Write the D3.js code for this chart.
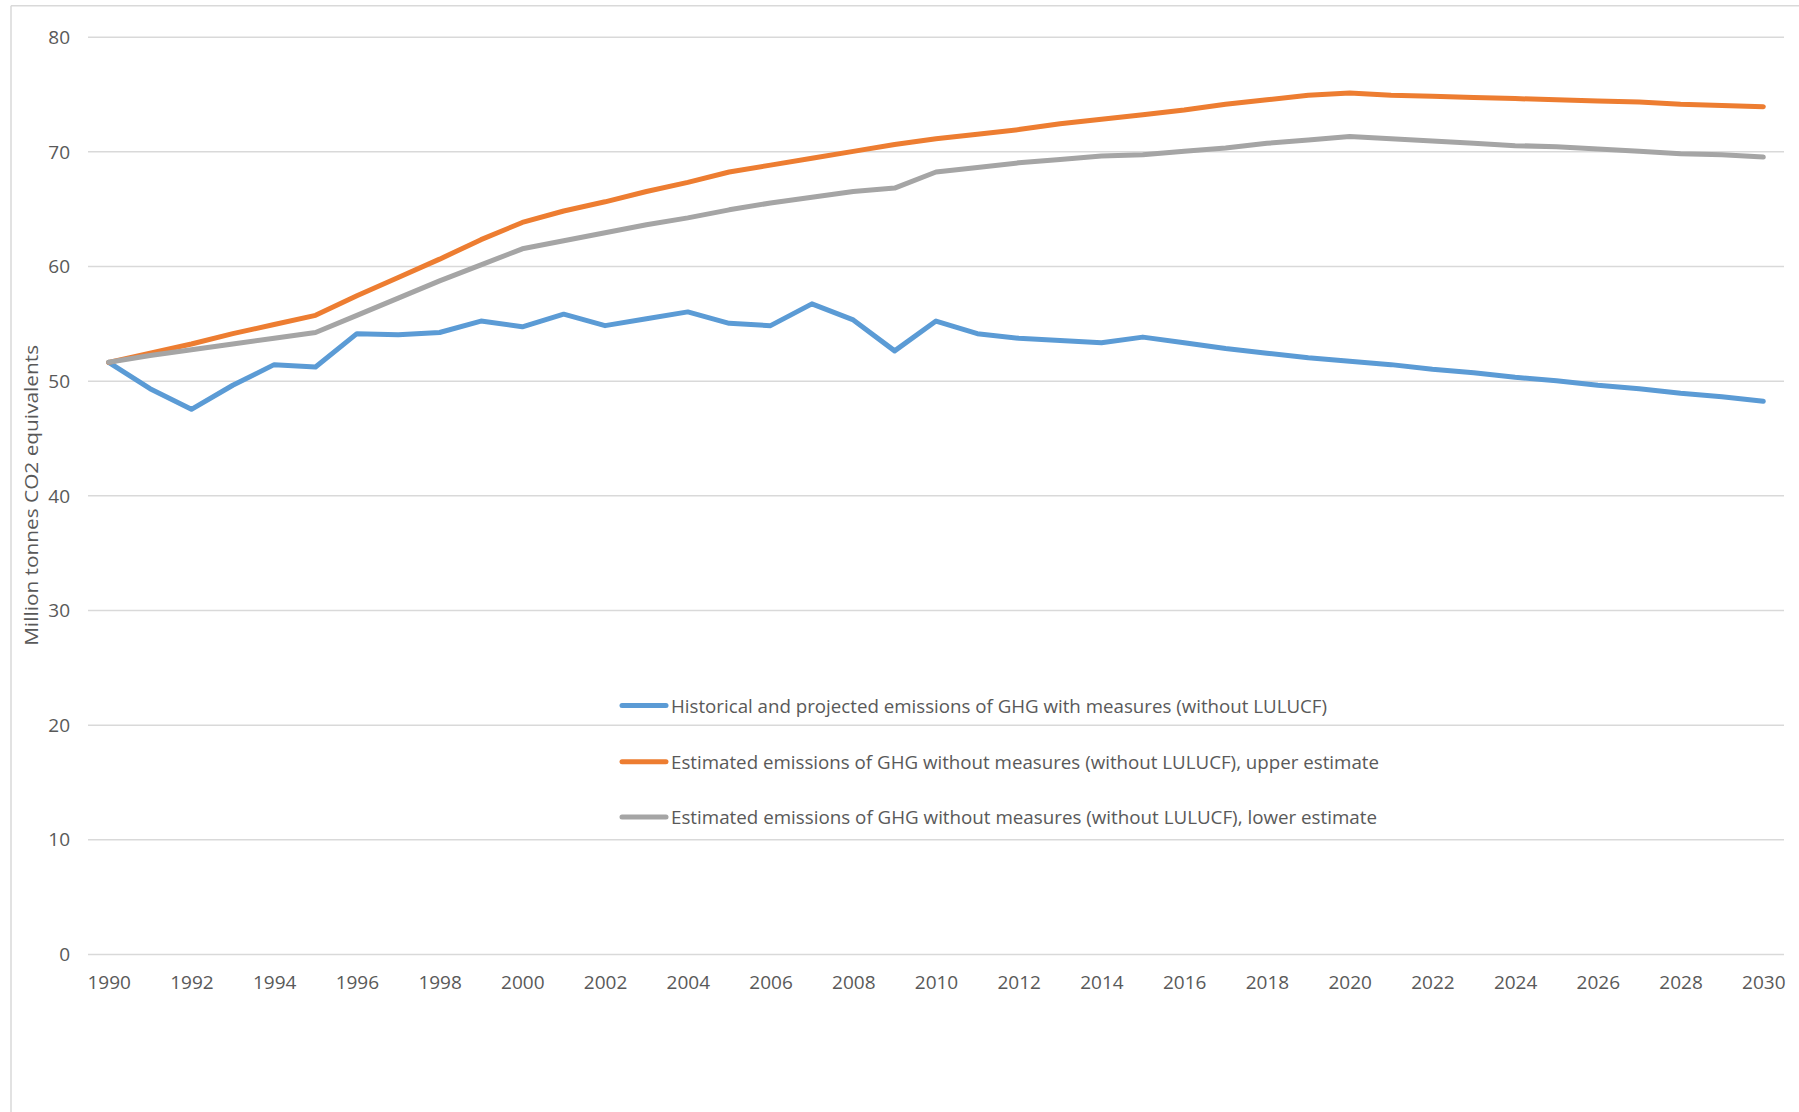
<!DOCTYPE html>
<html>
<head>
<meta charset="utf-8">
<script src="https://cdn.jsdelivr.net/npm/d3@7/dist/d3.min.js"></script>
<style>
  html, body { margin: 0; padding: 0; background: #fff; }
  svg { display: block; }
  text { font-family: "Open Sans", "Noto Sans", sans-serif; fill: #595959; }
</style>
</head>
<body>
<svg id="chart" width="1799" height="1112"></svg>
<script>
// ---- Data ----
const years = d3.range(1990, 2031);
const xTickLabels = d3.range(1990, 2031, 2);
const yTicks = [0, 10, 20, 30, 40, 50, 60, 70, 80];

const withMeasures = [51.6, 49.3, 47.5, 49.6, 51.4, 51.2, 54.1, 54.0, 54.2, 55.2,
  54.7, 55.8, 54.8, 55.4, 56.0, 55.0, 54.8, 56.7, 55.3, 52.6,
  55.2, 54.1, 53.7, 53.5, 53.3, 53.8, 53.3, 52.8, 52.4, 52.0,
  51.7, 51.4, 51.0, 50.7, 50.3, 50.0, 49.6, 49.3, 48.9, 48.6, 48.2];

const upperEstimate = [51.6, 52.4, 53.2, 54.1, 54.9, 55.7, 57.4, 59.0, 60.6, 62.3,
  63.8, 64.8, 65.6, 66.5, 67.3, 68.2, 68.8, 69.4, 70.0, 70.6,
  71.1, 71.5, 71.9, 72.4, 72.8, 73.2, 73.6, 74.1, 74.5, 74.9,
  75.1, 74.9, 74.8, 74.7, 74.6, 74.5, 74.4, 74.3, 74.1, 74.0, 73.9];

const lowerEstimate = [51.6, 52.2, 52.7, 53.2, 53.7, 54.2, 55.7, 57.2, 58.7, 60.1,
  61.5, 62.2, 62.9, 63.6, 64.2, 64.9, 65.5, 66.0, 66.5, 66.8,
  68.2, 68.6, 69.0, 69.3, 69.6, 69.7, 70.0, 70.3, 70.7, 71.0,
  71.3, 71.1, 70.9, 70.7, 70.5, 70.4, 70.2, 70.0, 69.8, 69.7, 69.5];

const seriesNames = [
  "Historical and projected emissions of GHG with measures (without LULUCF)",
  "Estimated emissions of GHG without measures (without LULUCF), upper estimate",
  "Estimated emissions of GHG without measures (without LULUCF), lower estimate"
];
const seriesColors = ["#5B9BD5", "#ED7D31", "#A5A5A5"];
const yTitle = "Million tonnes CO2 equivalents";

// ---- Layout ----
const plotL = 88, plotR = 1784, plotT = 36.7, plotB = 954;
const svg = d3.select("#chart");

// outer frame (top and left edges visible)
svg.append("line").attr("x1", 11).attr("x2", 1799).attr("y1", 5.7).attr("y2", 5.7)
  .attr("stroke", "#D9D9D9").attr("stroke-width", 1.5);
svg.append("line").attr("x1", 11).attr("x2", 11).attr("y1", 5.7).attr("y2", 1112)
  .attr("stroke", "#D9D9D9").attr("stroke-width", 1.5);

const x = d3.scalePoint().domain(years).range([plotL, plotR]).padding(0.5);
const y = d3.scaleLinear().domain([0, 80]).range([plotB, plotT]);

// y axis with gridlines
const yAxis = svg.append("g").attr("transform", `translate(${plotL},0)`)
  .call(d3.axisLeft(y).tickValues(yTicks).tickSize(-(plotR - plotL)).tickPadding(18));
yAxis.select(".domain").remove();
yAxis.selectAll(".tick line").attr("stroke", "#D9D9D9").attr("stroke-width", 1.5);
yAxis.selectAll(".tick text").style("font-size", "19px").attr("fill", "#595959")
  .attr("dy", "0.35em");

// x axis
const xAxis = svg.append("g").attr("transform", `translate(0,${plotB})`)
  .call(d3.axisBottom(x).tickValues(xTickLabels).tickSize(0).tickPadding(0));
xAxis.select(".domain").remove();
xAxis.selectAll(".tick text").style("font-size", "19px").attr("fill", "#595959")
  .attr("y", 28).attr("dy", "0.35em");

// y title
svg.append("text")
  .attr("transform", `translate(31,${(plotT + plotB) / 2}) rotate(-90)`)
  .attr("text-anchor", "middle").attr("dominant-baseline", "central")
  .style("font-size", "19px")
  .attr("textLength", 301).attr("lengthAdjust", "spacingAndGlyphs")
  .text(yTitle);

// lines
const allSeries = [withMeasures, upperEstimate, lowerEstimate];
const line = d3.line().x((d, i) => x(years[i])).y(d => y(d));
allSeries.forEach((s, k) => {
  svg.append("path").datum(s)
    .attr("d", line)
    .attr("fill", "none")
    .attr("stroke", seriesColors[k])
    .attr("stroke-width", 5)
    .attr("stroke-linejoin", "round")
    .attr("stroke-linecap", "round");
});

// legend
const legendRows = [705.6, 761.8, 816.9];
const legendWidths = [656, 708, 706];
seriesNames.forEach((name, k) => {
  const g = svg.append("g");
  g.append("line").attr("x1", 622).attr("x2", 666)
    .attr("y1", legendRows[k]).attr("y2", legendRows[k])
    .attr("stroke", seriesColors[k]).attr("stroke-width", 5).attr("stroke-linecap", "round");
  g.append("text").attr("x", 671).attr("y", legendRows[k])
    .attr("dominant-baseline", "central")
    .style("font-size", "19px")
    .attr("textLength", legendWidths[k]).attr("lengthAdjust", "spacingAndGlyphs")
    .text(name);
});
</script>
</body>
</html>
